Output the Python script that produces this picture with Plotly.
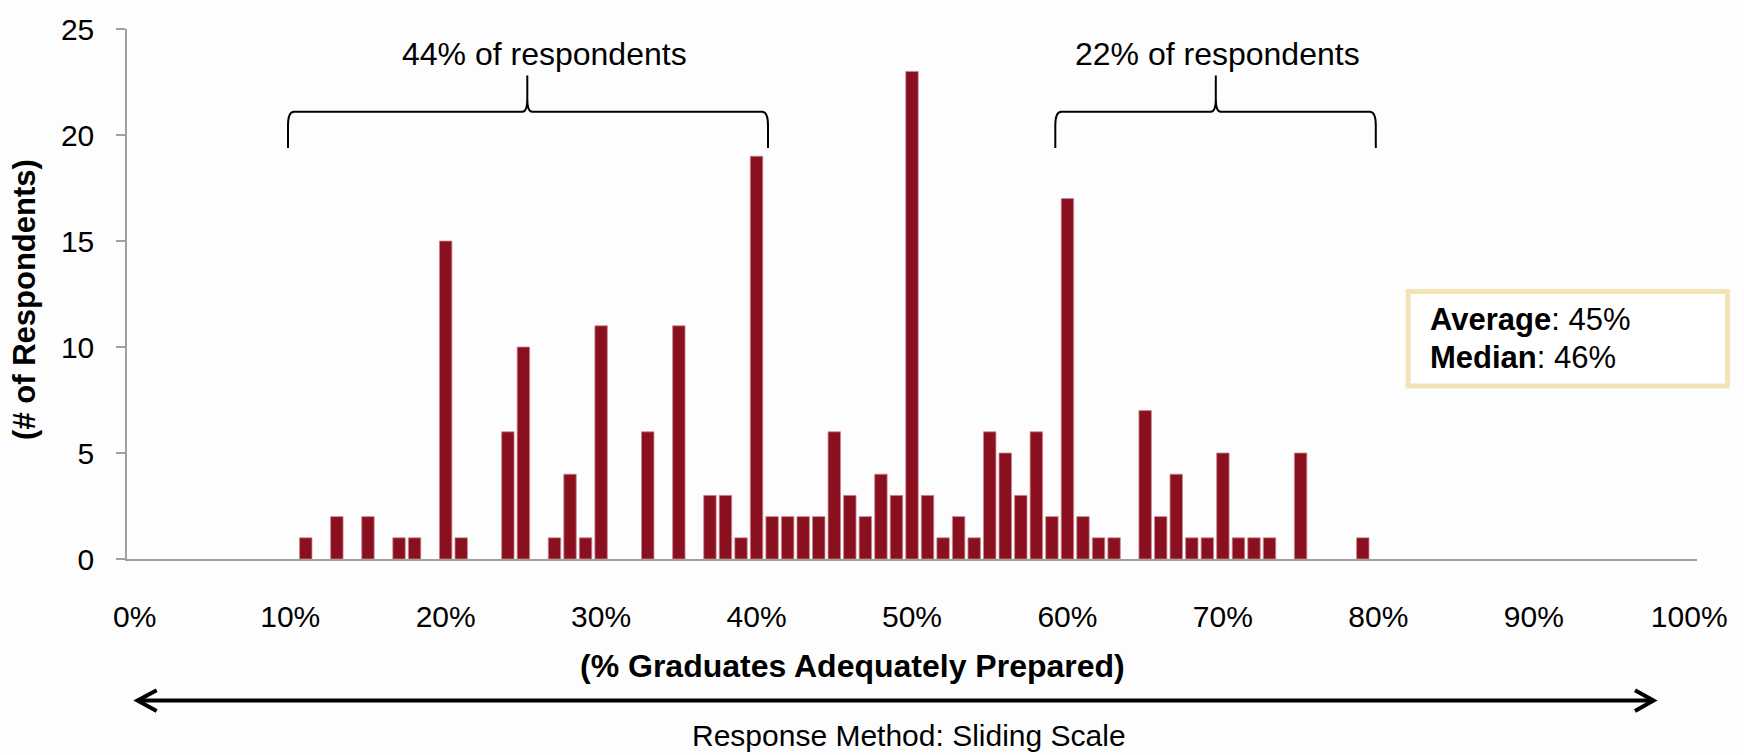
import plotly.graph_objects as go

# ---- data ----
pct_values = [11, 13, 15, 17, 18, 20, 21, 24, 25, 27, 28, 29, 30, 33, 35, 37, 38, 39,
              40, 41, 42, 43, 44, 45, 46, 47, 48, 49, 50, 51, 52, 53, 54, 55, 56, 57, 58, 59,
              60, 61, 62, 63, 65, 66, 67, 68, 69, 70, 71, 72, 73, 75, 79]
respondents = [1, 2, 2, 1, 1, 15, 1, 6, 10, 1, 4, 1, 11, 6, 11, 3, 3, 1,
               19, 2, 2, 2, 2, 6, 3, 2, 4, 3, 23, 3, 1, 2, 1, 6, 5, 3, 6, 2,
               17, 2, 1, 1, 7, 2, 4, 1, 1, 5, 1, 1, 1, 5, 1]
tick_vals = [0, 10, 20, 30, 40, 50, 60, 70, 80, 90, 100]
tick_text = ["0%", "10%", "20%", "30%", "40%", "50%", "60%", "70%", "80%", "90%", "100%"]
bracket_labels = ["44% of respondents", "22% of respondents"]
stats_text = [("Average", "45%"), ("Median", "46%")]

W, H = 1744, 755
X0, X1, Y0, Y1 = 127, 1697, 21, 559
FONT = "Liberation Sans, Arial, sans-serif"
BG = "#FDFDFD"


def fx(x):
    return (x - X0) / (X1 - X0)


def fy(y):
    return (Y1 - y) / (Y1 - Y0)


fig = go.Figure()
fig.add_trace(go.Bar(
    x=pct_values, y=respondents,
    marker=dict(color="#8A1020", line=dict(color="#C98890", width=0.8)),
    width=0.8, hoverinfo="x+y",
))


def brace(x0, x1, xp, yb=141.7, yh=105, yt=68.3):
    pts = [
        f"M {fx(x0)},{fy(yb)}",
        f"L {fx(x0)},{fy(yh + 14)}",
        f"Q {fx(x0)},{fy(yh)} {fx(x0 + 6)},{fy(yh)}",
        f"L {fx(xp - 5)},{fy(yh)}",
        f"Q {fx(xp)},{fy(yh)} {fx(xp)},{fy(yh - 13)}",
        f"L {fx(xp)},{fy(yt)}",
        f"L {fx(xp)},{fy(yh - 13)}",
        f"Q {fx(xp)},{fy(yh)} {fx(xp + 5)},{fy(yh)}",
        f"L {fx(x1 - 6)},{fy(yh)}",
        f"Q {fx(x1)},{fy(yh)} {fx(x1)},{fy(yh + 14)}",
        f"L {fx(x1)},{fy(yb)}",
    ]
    return dict(type="path", xref="paper", yref="paper", path=" ".join(pts),
                line=dict(color="black", width=2), fillcolor="rgba(0,0,0,0)")


shapes = [
    brace(288, 768, 527.3),
    brace(1055.3, 1375.8, 1215.8),
    # stats box
    dict(type="rect", xref="paper", yref="paper",
         x0=fx(1408.2), x1=fx(1727.5), y0=fy(287.5), y1=fy(383.5),
         line=dict(color="#F2E4B8", width=5), fillcolor="white"),
    # double arrow
    dict(type="line", xref="paper", yref="paper",
         x0=fx(138), x1=fx(1653), y0=fy(702.7), y1=fy(702.7),
         line=dict(color="black", width=4)),
    dict(type="path", xref="paper", yref="paper",
         path=f"M {fx(156.7)},{fy(692.3)} L {fx(137.5)},{fy(702.7)} L {fx(156.7)},{fy(713.3)}",
         line=dict(color="black", width=4), fillcolor="rgba(0,0,0,0)"),
    dict(type="path", xref="paper", yref="paper",
         path=f"M {fx(1635)},{fy(692.3)} L {fx(1653.5)},{fy(702.7)} L {fx(1635)},{fy(713.3)}",
         line=dict(color="black", width=4), fillcolor="rgba(0,0,0,0)"),
]

annotations = [
    dict(text=bracket_labels[0], x=fx(544.7), y=fy(46), xanchor="center", yanchor="middle",
         font=dict(size=32, color="black", family=FONT)),
    dict(text=bracket_labels[1], x=fx(1217), y=fy(46), xanchor="center", yanchor="middle",
         font=dict(size=32, color="black", family=FONT)),
    dict(text=f"<b>{stats_text[0][0]}</b>: {stats_text[0][1]}", x=fx(1428), y=fy(316),
         xanchor="left", yanchor="middle", font=dict(size=31, color="black", family=FONT)),
    dict(text=f"<b>{stats_text[1][0]}</b>: {stats_text[1][1]}", x=fx(1428), y=fy(354),
         xanchor="left", yanchor="middle", font=dict(size=31, color="black", family=FONT)),
    dict(text="<b>(% Graduates Adequately Prepared)</b>", x=fx(852.6), y=fy(668),
         xanchor="center", yanchor="middle", font=dict(size=32, color="black", family=FONT)),
    dict(text="Response Method: Sliding Scale", x=fx(908.6), y=fy(738),
         xanchor="center", yanchor="middle", font=dict(size=30, color="black", family=FONT)),
    dict(text="<b>(# of Respondents)</b>", x=fx(25), y=fy(296), textangle=-90,
         xanchor="center", yanchor="middle", font=dict(size=31, color="black", family=FONT)),
]
for a in annotations:
    a.update(xref="paper", yref="paper", showarrow=False)

fig.update_layout(
    width=W, height=H,
    margin=dict(l=X0, r=W - X1, t=Y0, b=H - Y1, pad=0),
    paper_bgcolor=BG, plot_bgcolor=BG,
    showlegend=False, bargap=0.2,
    font=dict(family=FONT, size=30, color="black"),
    shapes=shapes, annotations=annotations,
    xaxis=dict(range=[-0.5, 100.5], tickmode="array", tickvals=tick_vals, ticktext=tick_text,
               showgrid=False, zeroline=False, showline=True, linecolor="#A0A0A0", linewidth=1.5,
               ticks="", ticklabelstandoff=30,
               tickfont=dict(size=30, color="black", family=FONT)),
    yaxis=dict(range=[0, 25], dtick=5, showgrid=False, zeroline=False, showline=True,
               linecolor="#A0A0A0", linewidth=1.5, ticks="outside", ticklen=9,
               tickcolor="#A0A0A0", tickwidth=1.5, ticklabelstandoff=16,
               tickfont=dict(size=30, color="black", family=FONT)),
)

fig.write_html("out.html", config={"displayModeBar": False},
               post_script="document.body.style.margin='0';document.body.style.overflow='hidden';")
